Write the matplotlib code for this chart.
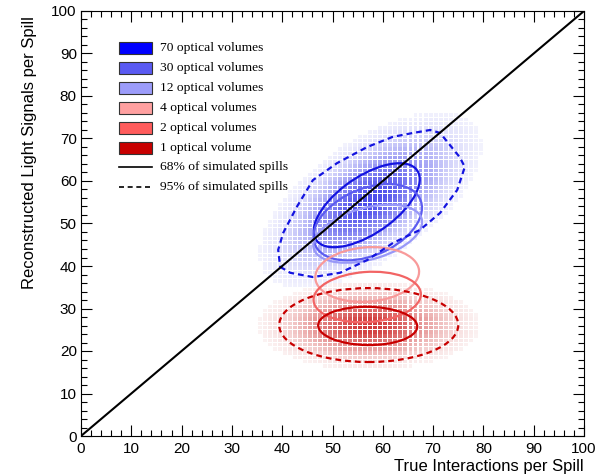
import numpy as np
import matplotlib
matplotlib.use("Agg")
import matplotlib.pyplot as plt
from matplotlib.patches import Ellipse, Rectangle, Polygon
from matplotlib.collections import PatchCollection
from matplotlib.lines import Line2D
from matplotlib.colors import to_rgb

# ---------------- data ----------------
labels = ["70 optical volumes", "30 optical volumes", "12 optical volumes",
          "4 optical volumes", "2 optical volumes", "1 optical volume"]
legend_fill = ["#0000ff", "#5a5af2", "#9c9cfa", "#ffa0a0", "#ff5c5c", "#c80000"]
line_colors = ["#1414e0", "#5c5cf0", "#9898f8", "#f89a9a", "#f26464", "#c80000"]

# 68% contours (ellipses): centre, full major, full minor, angle (deg)
c68_x = [56.8, 57.0, 57.0, 56.9, 56.9, 57.0]
c68_y = [54.3, 50.3, 47.6, 38.0, 32.7, 25.9]
c68_major = [26.0, 23.6, 22.6, 20.7, 21.4, 19.7]
c68_minor = [12.6, 15.2, 12.0, 12.8, 11.8, 9.0]
c68_angle = [42.0, 32.0, 20.0, 6.0, 5.0, -1.0]

# 95% contour, 70 optical volumes (polygon vertices)
c95_blue_x = [39.6, 41.6, 46.1, 51.5, 56.9, 62.0, 67.4, 71.4, 74.8, 76.3, 75.3,
              71.4, 69.4, 66.0, 62.0, 56.9, 50.9, 46.1, 42.9, 40.2, 39.2]
c95_blue_y = [39.8, 38.4, 37.4, 38.4, 41.4, 45.4, 48.5, 52.5, 57.9, 63.3, 65.6,
              71.3, 72.0, 71.3, 70.4, 68.0, 64.2, 60.2, 53.9, 47.8, 43.8]
# 95% contour, 1 optical volume (ellipse)
c95_red = dict(x=57.2, y=26.1, major=35.6, minor=17.4, angle=0.0)

# 2D-histogram spread (70 and 1 optical volumes): centre, sigma major/minor, angle
heat_x = [57.5, 57.2]
heat_y = [55.5, 26.0]
heat_sig_major = [9.4, 7.6]
heat_sig_minor = [4.6, 3.6]
heat_angle = [42.0, 0.0]
heat_color = ["#2c2ce8", "#c81414"]

x_ticks = [0, 10, 20, 30, 40, 50, 60, 70, 80, 90, 100]
y_ticks = [0, 10, 20, 30, 40, 50, 60, 70, 80, 90, 100]

# ---------------- figure ----------------
fig = plt.figure(figsize=(6.11, 4.76), dpi=100)
ax = fig.add_axes([81/611, 40/476, 503/611, 425/476])
ax.set_xlim(0, 100)
ax.set_ylim(0, 100)

# histogram cells
edges = np.arange(0, 101, 1.0)
centres = edges[:-1] + 0.5
X, Y = np.meshgrid(centres, centres)
gap = 0.22
for cx, cy, sa, sb, ang, col in zip(heat_x, heat_y, heat_sig_major, heat_sig_minor,
                                    heat_angle, heat_color):
    t = np.deg2rad(ang)
    dx, dy = X - cx, Y - cy
    u = dx*np.cos(t) + dy*np.sin(t)
    v = -dx*np.sin(t) + dy*np.cos(t)
    d = np.exp(-0.5*(u**2/sa**2 + v**2/sb**2))
    mask = d > 0.015
    rects, fcs = [], []
    rgb = to_rgb(col)
    for xx, yy, dd in zip(X[mask], Y[mask], d[mask]):
        rects.append(Rectangle((xx-0.5+gap/2, yy-0.5+gap/2), 1-gap, 1-gap))
        fcs.append((*rgb, 0.85*dd**0.65))
    pc = PatchCollection(rects, facecolors=fcs, edgecolors="none", zorder=1)
    ax.add_collection(pc)

# 68% contours
for i in range(len(labels)):
    ax.add_patch(Ellipse((c68_x[i], c68_y[i]), c68_major[i], c68_minor[i],
                         angle=c68_angle[i], fill=False, ec=line_colors[i],
                         lw=1.6, zorder=3))
# 95% contours
dash = (0, (2.6, 1.8))
ax.add_patch(Polygon(np.column_stack([c95_blue_x, c95_blue_y]), closed=True,
                     fill=False, ec=line_colors[0], lw=1.6, ls=dash, zorder=3))
ax.add_patch(Ellipse((c95_red["x"], c95_red["y"]), c95_red["major"], c95_red["minor"],
                     angle=c95_red["angle"], fill=False, ec=line_colors[5],
                     lw=1.6, ls=dash, zorder=3))

# diagonal
ax.plot([0, 100], [0, 100], color="black", lw=1.5, zorder=4)

# ticks / axes
ax.set_xticks(x_ticks)
ax.set_yticks(y_ticks)
ax.set_xticks(np.arange(0, 101, 2), minor=True)
ax.set_yticks(np.arange(0, 101, 2), minor=True)
ax.tick_params(which="both", direction="in", top=True, right=True, width=0.8)
ax.tick_params(which="major", length=8)
ax.tick_params(which="minor", length=4)
ax.tick_params(axis="x", which="major", pad=4)
ax.tick_params(axis="y", which="major", pad=3)
for lab in ax.get_xticklabels() + ax.get_yticklabels():
    lab.set_fontfamily("Liberation Sans")
    lab.set_fontsize(11)
for s in ax.spines.values():
    s.set_linewidth(0.8)

fig.text(30/611, 1 - 16/476, "Reconstructed Light Signals per Spill", rotation=90,
         ha="center", va="top", fontsize=12, family="Liberation Sans")
fig.text(584/611, 1 - 466/476, "True Interactions per Spill", ha="right", va="center",
         fontsize=12, family="Liberation Sans")

# legend (manual, axes coordinates)
bx0, bw, bh = (119-81)/503, 33/503, 12/425
ty0 = (436-48.3)/425
step = 19.85/425
for i, (lab, fc) in enumerate(zip(labels, legend_fill)):
    yc = ty0 - i*step
    ax.add_patch(Rectangle((bx0, yc - bh/2), bw, bh, transform=ax.transAxes,
                           fc=fc, ec="#333333", lw=0.8, zorder=6))
    ax.text((160-81)/503, yc, lab, transform=ax.transAxes, va="center", ha="left",
            fontsize=9.7, family="Liberation Serif", zorder=6)
for j, (lab, ls) in enumerate([("68% of simulated spills", "-"),
                               ("95% of simulated spills", (0, (3, 2.2)))]):
    yc = ty0 - (6 + j)*step
    ax.add_line(Line2D([bx0, bx0 + bw], [yc, yc], transform=ax.transAxes,
                       color="black", lw=1.2, ls=ls, zorder=6))
    ax.text((160-81)/503, yc, lab, transform=ax.transAxes, va="center", ha="left",
            fontsize=9.7, family="Liberation Serif", zorder=6)

fig.savefig("out.png", dpi=100)
